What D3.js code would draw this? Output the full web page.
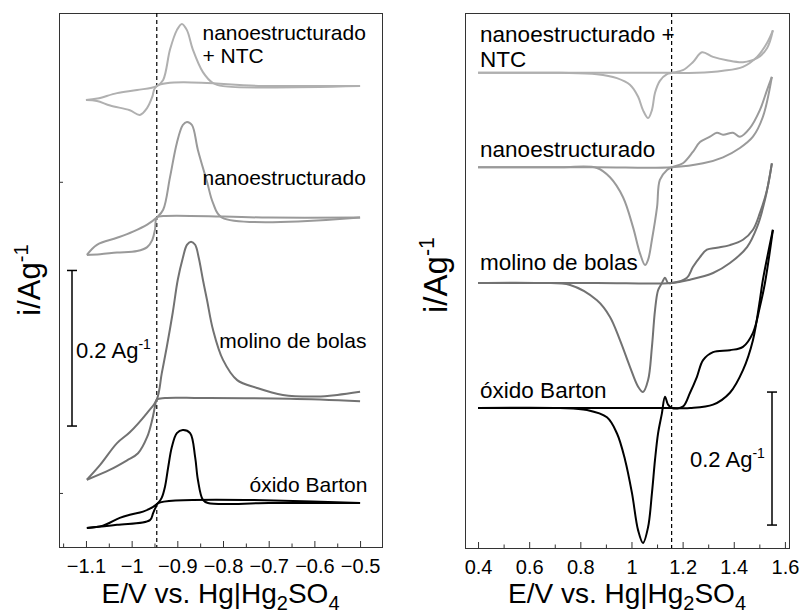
<!DOCTYPE html>
<html>
<head>
<meta charset="utf-8">
<script src="https://cdn.jsdelivr.net/npm/d3@7"></script>
<style>
  body { margin: 0; background: #fff; }
  svg text { font-family: "Liberation Sans", Arial, sans-serif; fill: #000; }
</style>
</head>
<body>
<svg id="chart" width="801" height="614"></svg>
<script>
// ---- tick values ----
const leftMajor = [-1.1, -1.0, -0.9, -0.8, -0.7, -0.6, -0.5];
const leftMinor = [-1.15, -1.05, -0.95, -0.85, -0.75, -0.65, -0.55];
const leftYTicks = [0, 0.4];
const rightMajor = [0.4, 0.6, 0.8, 1.0, 1.2, 1.4, 1.6];
const rightMinor = [0.5, 0.7, 0.9, 1.1, 1.3, 1.5];

// ---- left panel: E (V) , i (A/g, stacked) ----
const ntcFwdL = [[-1.100,0.505],[-1.075,0.507],[-1.032,0.514],[-0.988,0.518],[-0.945,0.523],
  [-0.931,0.531],[-0.916,0.570],[-0.901,0.595],[-0.890,0.603],[-0.879,0.595],[-0.866,0.570],
  [-0.844,0.541],[-0.822,0.527],[-0.800,0.523],[-0.500,0.523]];
const ntcRevL = [[-0.500,0.523],[-0.700,0.523],[-0.945,0.523],[-0.955,0.509],[-0.966,0.495],
  [-0.982,0.486],[-1.004,0.492],[-1.047,0.498],[-1.076,0.504],[-1.100,0.505]];

const nanoFwdL = [[-1.098,0.306],[-1.076,0.319],[-1.032,0.328],[-0.997,0.336],[-0.966,0.345],
  [-0.945,0.354],[-0.931,0.364],[-0.916,0.406],[-0.901,0.450],[-0.888,0.473],[-0.879,0.477],
  [-0.868,0.473],[-0.855,0.441],[-0.835,0.400],[-0.822,0.373],[-0.802,0.354],[-0.500,0.354]];
const nanoRevL = [[-0.500,0.354],[-0.700,0.354],[-0.931,0.356],[-0.945,0.354],[-0.949,0.338],
  [-0.955,0.325],[-0.966,0.316],[-0.988,0.311],[-1.032,0.309],[-1.069,0.307],[-1.098,0.306]];

const molFwdL = [[-1.098,0.017],[-1.069,0.036],[-1.032,0.064],[-1.004,0.078],[-0.966,0.103],
  [-0.945,0.120],[-0.934,0.154],[-0.923,0.188],[-0.910,0.232],[-0.899,0.274],[-0.888,0.302],
  [-0.879,0.319],[-0.870,0.323],[-0.861,0.319],[-0.853,0.302],[-0.844,0.274],[-0.835,0.248],
  [-0.822,0.210],[-0.800,0.171],[-0.769,0.145],[-0.726,0.135],[-0.669,0.126],[-0.594,0.124],
  [-0.550,0.126],[-0.500,0.130]];
const molRevL = [[-0.500,0.118],[-0.653,0.121],[-0.850,0.122],[-0.927,0.122],[-0.945,0.120],
  [-0.949,0.111],[-0.955,0.094],[-0.966,0.072],[-0.986,0.051],[-1.010,0.042],[-1.047,0.030],
  [-1.098,0.017]];

const oxFwdL = [[-1.098,-0.045],[-1.063,-0.042],[-1.026,-0.032],[-1.004,-0.028],[-0.975,-0.024],
  [-0.953,-0.018],[-0.942,-0.013],[-0.934,-0.006],[-0.927,0.008],[-0.920,0.033],[-0.912,0.059],
  [-0.901,0.077],[-0.888,0.081],[-0.872,0.077],[-0.861,0.046],[-0.855,0.017],[-0.844,-0.009],
  [-0.833,-0.013],[-0.700,-0.013],[-0.500,-0.013]];
const oxRevL = [[-0.500,-0.013],[-0.942,-0.013],[-0.947,-0.018],[-0.953,-0.026],[-0.960,-0.035],
  [-1.032,-0.041],[-1.098,-0.045]];

// ---- right panel ----
const ntcFwdR = [[0.400,0.504],[0.865,0.504],[1.158,0.504],[1.256,0.504],[1.358,0.507],
  [1.436,0.513],[1.491,0.528],[1.530,0.549],[1.553,0.568]];
const ntcRevR = [[1.553,0.568],[1.530,0.541],[1.491,0.526],[1.436,0.520],[1.373,0.523],
  [1.319,0.528],[1.276,0.535],[1.240,0.520],[1.201,0.508],[1.158,0.504],[1.139,0.502],
  [1.111,0.492],[1.092,0.474],[1.080,0.448],[1.065,0.436],[1.045,0.448],[1.026,0.468],
  [0.994,0.486],[0.943,0.496],[0.865,0.502],[0.721,0.504],[0.400,0.504]];

const nanoFwdR = [[0.400,0.362],[0.865,0.362],[1.158,0.362],[1.280,0.368],[1.358,0.377],
  [1.424,0.391],[1.475,0.408],[1.514,0.438],[1.549,0.498]];
const nanoRevR = [[1.549,0.498],[1.530,0.478],[1.502,0.448],[1.463,0.421],[1.424,0.408],
  [1.397,0.414],[1.358,0.411],[1.334,0.414],[1.307,0.408],[1.268,0.400],[1.240,0.385],
  [1.201,0.368],[1.158,0.362],[1.139,0.358],[1.111,0.343],[1.100,0.302],[1.080,0.253],
  [1.065,0.223],[1.053,0.215],[1.033,0.233],[1.006,0.272],[0.967,0.317],[0.916,0.347],
  [0.865,0.361],[0.721,0.362],[0.400,0.362]];

const molFwdR = [[0.400,0.188],[0.865,0.188],[1.158,0.188],[1.229,0.193],[1.319,0.203],
  [1.385,0.218],[1.452,0.242],[1.491,0.272],[1.522,0.313],[1.549,0.368]];
const molRevR = [[1.549,0.368],[1.530,0.328],[1.502,0.293],[1.475,0.268],[1.436,0.253],
  [1.385,0.245],[1.334,0.241],[1.295,0.238],[1.268,0.227],[1.240,0.212],[1.217,0.196],
  [1.158,0.188],[1.143,0.188],[1.131,0.196],[1.119,0.188],[1.104,0.177],[1.092,0.147],
  [1.080,0.092],[1.065,0.042],[1.045,0.024],[1.026,0.032],[0.994,0.062],[0.955,0.102],
  [0.916,0.137],[0.865,0.162],[0.760,0.185],[0.642,0.188],[0.400,0.188]];

const oxFwdR = [[0.400,0.000],[0.865,0.000],[1.158,0.000],[1.229,0.000],[1.319,0.005],
  [1.385,0.023],[1.436,0.057],[1.475,0.102],[1.502,0.162],[1.514,0.193],[1.553,0.268]];
const oxRevR = [[1.553,0.268],[1.522,0.188],[1.502,0.152],[1.475,0.113],[1.436,0.092],
  [1.385,0.087],[1.319,0.084],[1.280,0.072],[1.256,0.047],[1.229,0.023],[1.201,0.002],
  [1.158,0.000],[1.143,0.005],[1.131,0.017],[1.119,-0.008],[1.104,-0.038],[1.092,-0.078],
  [1.080,-0.128],[1.065,-0.179],[1.045,-0.203],[1.026,-0.184],[1.002,-0.128],[0.975,-0.078],
  [0.943,-0.038],[0.904,-0.014],[0.826,-0.003],[0.721,0.000],[0.400,0.000]];

// ---- labels ----
const leftLabels = [
  { lines: ["nanoestructurado", "+ NTC"], E: -0.845, i: 0.582 },
  { lines: ["nanoestructurado"], E: -0.845, i: 0.396 },
  { lines: ["molino de bolas"], E: -0.808, i: 0.186 },
  { lines: ["óxido Barton"], E: -0.742, i: 0.001 }
];
const rightLabels = [
  { lines: ["nanoestructurado +", "NTC"], E: 0.408, i: 0.55 },
  { lines: ["nanoestructurado"], E: 0.408, i: 0.377 },
  { lines: ["molino de bolas"], E: 0.408, i: 0.207 },
  { lines: ["óxido Barton"], E: 0.408, i: 0.015 }
];

const colNtc = "#b0b0b0", colNano = "#9a9a9a", colMol = "#727272", colOx = "#000";

const svg = d3.select("#chart");

function panel(opts) {
  const x = d3.scaleLinear().domain(opts.xDomain).range([opts.left, opts.right]);
  const y = d3.scaleLinear().domain(opts.yDomain).range([opts.bottom, opts.top]);
  const g = svg.append("g");
  const fmt = d => String(Math.round(d * 10) / 10).replace("-", "\u2212");

  // minor ticks
  g.append("g")
    .attr("transform", `translate(0,${opts.bottom})`)
    .call(d3.axisBottom(x).tickValues(opts.minor).tickSize(-3.5).tickFormat(""))
    .call(a => a.select(".domain").remove())
    .call(a => a.selectAll("line").attr("stroke", "#333"));
  // major ticks
  g.append("g")
    .attr("transform", `translate(0,${opts.bottom})`)
    .call(d3.axisBottom(x).tickValues(opts.major).tickSize(-6).tickPadding(12).tickFormat(fmt))
    .call(a => a.select(".domain").remove())
    .call(a => a.selectAll("line").attr("stroke", "#333"))
    .call(a => a.selectAll("text").attr("font-size", 20).attr("font-family", null));

  if (opts.yTicks) {
    g.append("g")
      .attr("transform", `translate(${opts.left},0)`)
      .call(d3.axisRight(y).tickValues(opts.yTicks).tickSize(4).tickFormat(""))
      .call(a => a.select(".domain").remove())
      .call(a => a.selectAll("line").attr("stroke", "#333"));
  }

  g.append("rect")
    .attr("x", opts.left + 0.5).attr("y", opts.top + 0.5)
    .attr("width", opts.right - opts.left).attr("height", opts.bottom - opts.top)
    .attr("fill", "none").attr("stroke", "#333").attr("stroke-width", 1);

  // dashed reference line
  g.append("line")
    .attr("x1", x(opts.dashE)).attr("x2", x(opts.dashE))
    .attr("y1", opts.top).attr("y2", opts.bottom)
    .attr("stroke", "#000").attr("stroke-width", 1.2).attr("stroke-dasharray", "4,3");

  const line = d3.line().x(d => x(d[0])).y(d => y(d[1])).curve(d3.curveCatmullRom.alpha(0.5));
  opts.curves.forEach(c => {
    c.data.forEach(arr => {
      g.append("path").attr("d", line(arr)).attr("fill", "none")
        .attr("stroke", c.color).attr("stroke-width", 2).attr("stroke-linejoin", "round");
    });
  });

  // curve labels
  opts.labels.forEach(l => {
    const t = g.append("text").attr("x", x(l.E)).attr("y", y(l.i)).attr("font-size", opts.labelSize);
    l.lines.forEach((s, k) => {
      t.append("tspan").attr("x", x(l.E)).attr("dy", k === 0 ? 0 : opts.labelSize * 1.1).text(s);
    });
  });

  // scale bar (0.2 A/g)
  const sb = opts.scaleBar;
  const y0 = y(sb.i0), y1 = y(sb.i0 + 0.2);
  g.append("line").attr("x1", sb.x).attr("x2", sb.x).attr("y1", y0).attr("y2", y1)
    .attr("stroke", "#000").attr("stroke-width", 1.5);
  [y0, y1].forEach(yy => g.append("line").attr("x1", sb.x - 5).attr("x2", sb.x + 5)
    .attr("y1", yy).attr("y2", yy).attr("stroke", "#000").attr("stroke-width", 1.5));
  const st = g.append("text").attr("x", sb.tx).attr("y", sb.ty).attr("font-size", 22);
  st.append("tspan").text("0.2 Ag");
  st.append("tspan").attr("font-size", 14).attr("dy", -9).text("-1");

  // x title
  const xt = g.append("text").attr("x", (opts.left + opts.right) / 2).attr("y", 603)
    .attr("text-anchor", "middle").attr("font-size", 28);
  xt.append("tspan").text("E/V vs. Hg|Hg");
  xt.append("tspan").attr("font-size", 20).attr("dy", 7).text("2");
  xt.append("tspan").attr("dy", -7).text("SO");
  xt.append("tspan").attr("font-size", 20).attr("dy", 7).text("4");

  // y title
  const yt = g.append("text").attr("transform", `translate(${opts.yTitleX},${opts.yTitleY}) rotate(-90)`)
    .attr("text-anchor", "middle").attr("font-size", opts.yTitleSize);
  yt.append("tspan").text("i/Ag");
  yt.append("tspan").attr("font-size", opts.yTitleSize * 0.65).attr("dy", -opts.yTitleSize * 0.4).text("-1");
}

panel({
  left: 59, right: 382, top: 13, bottom: 547,
  xDomain: [-1.159, -0.452], yDomain: [-0.0695, 0.617],
  major: leftMajor, minor: leftMinor, yTicks: leftYTicks,
  dashE: -0.945,
  curves: [
    { data: [ntcFwdL, ntcRevL], color: colNtc },
    { data: [nanoFwdL, nanoRevL], color: colNano },
    { data: [molFwdL, molRevL], color: colMol },
    { data: [oxFwdL, oxRevL], color: colOx }
  ],
  labels: leftLabels, labelSize: 21,
  scaleBar: { x: 72, i0: 0.086, tx: 76, ty: 358 },
  yTitleX: 40, yTitleY: 280, yTitleSize: 31
});

panel({
  left: 465, right: 789, top: 13, bottom: 548,
  xDomain: [0.349, 1.616], yDomain: [-0.2105, 0.594],
  major: rightMajor, minor: rightMinor, yTicks: null,
  dashE: 1.157,
  curves: [
    { data: [ntcFwdR, ntcRevR], color: colNtc },
    { data: [nanoFwdR, nanoRevR], color: colNano },
    { data: [molFwdR, molRevR], color: colMol },
    { data: [oxFwdR, oxRevR], color: colOx }
  ],
  labels: rightLabels, labelSize: 22.5,
  scaleBar: { x: 772, i0: -0.176, tx: 690, ty: 467 },
  yTitleX: 447, yTitleY: 275, yTitleSize: 33
});
</script>
</body>
</html>
